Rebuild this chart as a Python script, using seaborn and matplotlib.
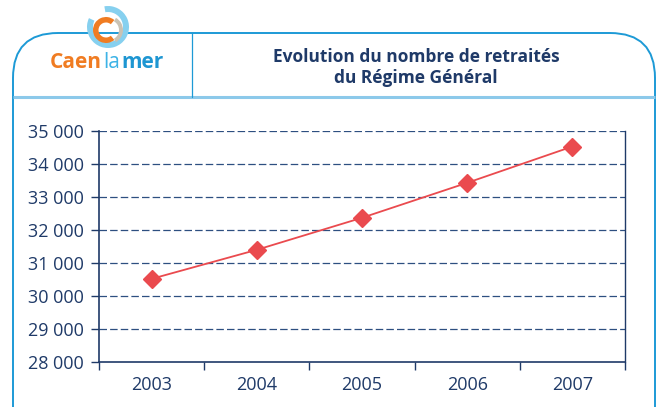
import numpy as np
import matplotlib
matplotlib.use("Agg")
import matplotlib.pyplot as plt
from matplotlib.patches import FancyBboxPatch, Wedge
from matplotlib.ticker import FuncFormatter, FixedLocator
import seaborn as sns

# --- data ---
years = ["2003", "2004", "2005", "2006", "2007"]
retraites = [30520, 31400, 32370, 33430, 34530]
y_ticks = [28000, 29000, 30000, 31000, 32000, 33000, 34000, 35000]

navy = "#1f3a68"
grid_col = "#2d4f80"
red = "#ea4a4e"
blue = "#1d9ad6"

sns.set_style("white")
plt.rcParams["font.family"] = ["Open Sans", "DejaVu Sans"]

W, H = 663, 407
fig = plt.figure(figsize=(W / 100, H / 100), dpi=100)

# background layer in pixel coordinates (frame, header, logo)
bg = fig.add_axes([0, 0, 1, 1], zorder=0)
bg.set_xlim(0, W)
bg.set_ylim(H, 0)
bg.axis("off")

frame = FancyBboxPatch((13, 33), 642, 420, boxstyle="round,pad=0,rounding_size=45",
                       fc="white", ec=blue, lw=1.4)
bg.add_patch(frame)
bg.plot([13, 655], [97, 97], color="#8cc9ea", lw=2.2, solid_capstyle="butt")
bg.plot([192, 192], [33, 97], color=blue, lw=0.9)

# logo
bg.add_patch(Wedge((108, 27), 21, -100, 205, width=6, fc="#86d0ef", ec="none"))
bg.add_patch(Wedge((109, 30), 14, -60, 60, width=4, fc="#c9c2b4", ec="none"))
bg.add_patch(Wedge((106, 30), 13, 50, 310, width=5.5, fc="#f07c22", ec="none"))
bg.text(102, 62, "Caen", color="#f07c22", fontsize=15, fontweight="bold",
        ha="right", va="center")
bg.text(112, 62, "la", color="#3db3e6", fontsize=15, ha="center", va="center")
bg.text(121, 62, "mer", color="#1e96d2", fontsize=15, fontweight="bold",
        ha="left", va="center")

bg.text(416, 57, "Evolution du nombre de retraités", color=navy, fontsize=12.5,
        fontweight="bold", ha="center", va="center")
bg.text(416, 78, "du Régime Général", color=navy, fontsize=12.5,
        fontweight="bold", ha="center", va="center")

# chart
ax = fig.add_axes([99 / W, 1 - 362 / H, (625 - 99) / W, (362 - 131) / H], zorder=1)
ax.patch.set_alpha(0)
sns.pointplot(x=years, y=retraites, color=red, markers="D", markersize=9,
              linewidth=1.3, ax=ax)

ax.set_ylim(28000, 35000)
ax.set_xlim(-0.5, 4.5)
ax.set_yticks(y_ticks)
ax.yaxis.set_major_formatter(FuncFormatter(lambda v, p: f"{int(v):,}".replace(",", " ")))
for v in y_ticks[1:]:
    ax.axhline(v, color=grid_col, lw=0.9, ls=(0, (6, 2.5)), zorder=0)

ax.xaxis.set_minor_locator(FixedLocator(np.arange(-0.5, 5, 1)))
ax.tick_params(axis="x", which="major", length=0, pad=10, labelsize=13, labelcolor=navy)
ax.tick_params(axis="x", which="minor", length=6, width=1, color=navy, direction="out")
ax.tick_params(axis="y", length=6, width=1, color=navy, direction="out",
               labelsize=13, labelcolor=navy, pad=5)
ax.yaxis.set_ticks_position("left")
ax.xaxis.set_ticks_position("bottom")

ax.spines["left"].set_color(navy)
ax.spines["left"].set_linewidth(1.2)
ax.spines["bottom"].set_color(navy)
ax.spines["bottom"].set_linewidth(1.2)
ax.spines["right"].set_color(navy)
ax.spines["right"].set_linestyle((0, (1, 1)))
ax.spines["right"].set_linewidth(1)
ax.spines["top"].set_visible(False)
ax.set_xlabel("")
ax.set_ylabel("")

fig.savefig("out.png", dpi=100)
